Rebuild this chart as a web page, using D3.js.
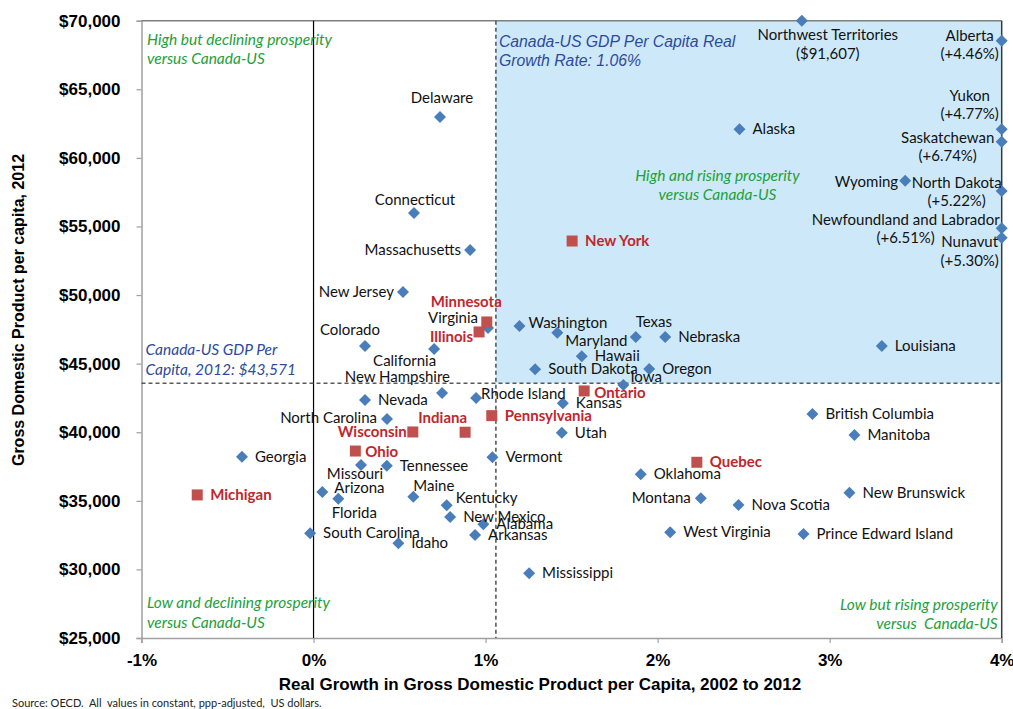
<!DOCTYPE html>
<html>
<head>
<meta charset="utf-8">
<script src="https://cdn.jsdelivr.net/npm/d3@7"></script>
<style>
  body { margin: 0; background: #fff; }
  .tick text { font-family: "Liberation Sans", Arial, sans-serif; font-weight: bold; font-size: 17px; fill: #000; }
  .axisTitle { font-family: "Liberation Sans", Arial, sans-serif; font-weight: bold; fill: #000; }
  .ptLabel { font-family: Lato, "Open Sans", sans-serif; font-size: 15px; fill: #111; }
  .ptLabel.lakes { font-weight: bold; fill: #c0272d; }
  .quad { font-family: Lato, sans-serif; font-style: italic; font-size: 15.5px; fill: #22a03a; }
  .note { fill: #2d4a9c; font-style: italic; }
</style>
</head>
<body>
<div id="chart"></div>
<script>
// Blue diamonds: other US states and Canadian provinces/territories
var otherNames = ["Delaware", "Connecticut", "Massachusetts", "New Jersey", "Virginia", "Colorado",
  "California", "New Hampshire", "Nevada", "Rhode Island", "North Carolina", "Georgia", "Missouri",
  "Tennessee", "Arizona", "Florida", "Maine", "Kentucky", "New Mexico", "Alabama", "Arkansas",
  "South Carolina", "Idaho", "Mississippi", "Vermont", "Washington", "Maryland", "Texas", "Nebraska",
  "Hawaii", "South Dakota", "Oregon", "Iowa", "Kansas", "Utah", "Oklahoma", "Montana", "West Virginia",
  "Louisiana", "Alaska", "Wyoming", "North Dakota", "Nova Scotia", "New Brunswick",
  "Prince Edward Island", "British Columbia", "Manitoba", "Alberta", "Yukon", "Saskatchewan",
  "Newfoundland and Labrador", "Nunavut", "Northwest Territories"];
var otherGrowth = [0.735, 0.584, 0.910, 0.520, 1.014, 0.299,
  0.701, 0.747, 0.299, 0.945, 0.427, -0.416, 0.276,
  0.426, 0.051, 0.144, 0.580, 0.774, 0.794, 0.987, 0.939,
  -0.020, 0.493, 1.253, 1.040, 1.197, 1.417, 1.873, 2.044,
  1.559, 1.288, 1.951, 1.801, 1.449, 1.443, 1.902, 2.251, 2.073,
  3.303, 2.476, 3.439, 5.22, 2.470, 3.115,
  2.848, 2.900, 3.144, 4.46, 4.77, 6.74,
  6.51, 5.30, 2.838];
var otherGdp = [62980, 55980, 53290, 50220, 47600, 46290,
  46070, 42860, 42350, 42500, 40970, 38220, 37610,
  37560, 35640, 35160, 35300, 34670, 33820, 33290, 32510,
  32630, 31900, 29720, 38170, 47750, 47260, 46940, 46940,
  45540, 44590, 44610, 43440, 42110, 39970, 36930, 35180, 32710,
  46290, 62090, 58340, 57590, 34700, 35590,
  32580, 41330, 39800, 68540, 62090, 61180,
  54870, 54180, 91607];

// Red squares: Great Lakes states and provinces
var lakesNames = ["Michigan", "Ohio", "Wisconsin", "Indiana", "Illinois", "Minnesota",
  "Pennsylvania", "New York", "Ontario", "Quebec"];
var lakesGrowth = [-0.676, 0.243, 0.577, 0.881, 0.962, 1.007, 1.036, 1.503, 1.573, 2.228];
var lakesGdp = [35430, 38630, 40020, 40000, 47310, 48040, 41210, 53940, 43010, 37810];

// Canada-US reference values
var refGrowth = 1.06;
var refGdp = 43571;

var xTicks = [-1, 0, 1, 2, 3, 4];
var yTicks = [25000, 30000, 35000, 40000, 45000, 50000, 55000, 60000, 65000, 70000];

// label placement: [anchor, dx, dy] or [anchor, dx, dy line1, dy line2]
var labelPos = {
  "Delaware": ["middle", 2, -14], "Connecticut": ["middle", 1, -8],
  "Massachusetts": ["end", -9, 5], "New Jersey": ["end", -9, 5],
  "Minnesota": ["end", 15, -15], "Virginia": ["end", -10, -5], "Illinois": ["end", -6, 10],
  "Colorado": ["middle", -15, -11], "California": ["end", 2, 17],
  "New Hampshire": ["end", 8, -11], "Rhode Island": ["start", 5, 1],
  "North Carolina": ["end", -10, 4], "Indiana": ["end", 2, -9], "Wisconsin": ["end", -6, 5],
  "Ohio": ["start", 10, 6], "Missouri": ["middle", -6, 14], "Arizona": ["start", 12, 1],
  "Florida": ["middle", 16, 19], "Maine": ["start", 0, -6], "Kentucky": ["start", 9, -2],
  "Washington": ["start", 9, 2], "Maryland": ["start", 8, 13], "Texas": ["start", 0, -10],
  "Iowa": ["start", 7, -3], "Ontario": ["start", 10, 7], "Montana": ["end", -10, 5],
  "Wyoming": ["end", -7, 6],
  "North Dakota": ["middle", -45, -3, 15],
  "Northwest Territories": ["middle", 26, 19, 38],
  "Alberta": ["middle", -32, 0, 18],
  "Yukon": ["middle", -32, -28, -10],
  "Saskatchewan": ["middle", -54, 1, 19],
  "Newfoundland and Labrador": ["middle", -96, -3, 15],
  "Nunavut": ["middle", -32, 9, 28]
};

var svgWidth = 1013;
var svgHeight = 709;
var margin = { top: 20.7, right: 11.3, bottom: 71, left: 141.5 };
var width = svgWidth - margin.left - margin.right;
var height = svgHeight - margin.top - margin.bottom;

var svg = d3.select("#chart").append("svg")
  .attr("width", svgWidth)
  .attr("height", svgHeight);

var chartGroup = svg.append("g")
  .attr("transform", `translate(${margin.left}, ${margin.top})`);

var x = d3.scaleLinear().domain([-1, 4]).range([0, width]).clamp(true);
var y = d3.scaleLinear().domain([25000, 70000]).range([height, 0]).clamp(true);

// shaded quadrant: high and rising
chartGroup.append("rect")
  .attr("x", x(refGrowth))
  .attr("y", y(70000))
  .attr("width", x(4) - x(refGrowth))
  .attr("height", y(refGdp) - y(70000))
  .attr("fill", "#cde9f9");

// axes
var leftAxis = d3.axisLeft(y).tickValues(yTicks).tickFormat(d3.format("$,"))
  .tickSizeOuter(0).tickSize(5).tickPadding(16);
var bottomAxis = d3.axisBottom(x).tickValues(xTicks).tickFormat(d => d + "%")
  .tickSizeOuter(0).tickSize(5).tickPadding(11);

var yAxisG = chartGroup.append("g").call(leftAxis);
var xAxisG = chartGroup.append("g").attr("transform", `translate(0, ${height})`).call(bottomAxis);
[yAxisG, xAxisG].forEach(function(g) {
  g.select(".domain").attr("stroke", "#a0a0a0").attr("stroke-width", 1.5);
  g.selectAll(".tick line").attr("stroke", "#a0a0a0").attr("stroke-width", 1.2);
});

// frame top and right
chartGroup.append("line")
  .attr("x1", 0).attr("x2", width).attr("y1", 0).attr("y2", 0)
  .attr("stroke", "#7f7f7f").attr("stroke-width", 1.5);
chartGroup.append("line")
  .attr("x1", width).attr("x2", width).attr("y1", 0).attr("y2", height)
  .attr("stroke", "#3a3a3a").attr("stroke-width", 1.5);

// zero growth line
chartGroup.append("line")
  .attr("x1", x(0)).attr("x2", x(0)).attr("y1", 0).attr("y2", height)
  .attr("stroke", "#000").attr("stroke-width", 1.2);

// Canada-US reference lines (dashed)
chartGroup.append("line")
  .attr("x1", x(refGrowth)).attr("x2", x(refGrowth)).attr("y1", 0).attr("y2", height)
  .attr("stroke", "#595959").attr("stroke-width", 1.6).attr("stroke-dasharray", "4,3");
chartGroup.append("line")
  .attr("x1", 0).attr("x2", width).attr("y1", y(refGdp)).attr("y2", y(refGdp))
  .attr("stroke", "#595959").attr("stroke-width", 1.6).attr("stroke-dasharray", "4,3");

// quadrant captions
function twoLines(g, px, py, anchor, lines, gap) {
  var t = g.append("text").attr("class", "quad").attr("text-anchor", anchor)
    .attr("xml:space", "preserve");
  lines.forEach(function(s, i) {
    t.append("tspan").attr("x", px).attr("y", py + i * gap).text(s);
  });
  return t;
}
twoLines(chartGroup, 5.5, 24.5, "start", ["High but declining prosperity", "versus Canada-US"], 18.5);
twoLines(chartGroup, 576, 160.5, "middle", ["High and rising prosperity", "versus Canada-US"], 18.5);
twoLines(chartGroup, 5.5, 587.5, "start", ["Low and declining prosperity", "versus Canada-US"], 19.5);
twoLines(chartGroup, width - 4, 589.5, "end", ["Low but rising prosperity", "versus  Canada-US"], 18.5);

// reference notes
var n1 = chartGroup.append("text").attr("class", "note")
  .style("font-family", "'Liberation Sans', Arial, sans-serif").style("font-size", "15.8px");
n1.append("tspan").attr("x", x(refGrowth) + 3).attr("y", 26.5).text("Canada-US GDP Per Capita Real");
n1.append("tspan").attr("x", x(refGrowth) + 3).attr("y", 45.5).text("Growth Rate: " + refGrowth.toFixed(2) + "%");

var n2 = chartGroup.append("text").attr("class", "note")
  .style("font-family", "Lato, sans-serif").style("font-size", "15.5px");
n2.append("tspan").attr("x", 4).attr("y", y(refGdp) - 28).text("Canada-US GDP Per");
n2.append("tspan").attr("x", 4).attr("y", y(refGdp) - 8).text("Capita, 2012: " + d3.format("$,")(refGdp));

// points
var otherData = otherNames.map((n, i) => ({ name: n, g: otherGrowth[i], v: otherGdp[i], lakes: false }));
var lakesData = lakesNames.map((n, i) => ({ name: n, g: lakesGrowth[i], v: lakesGdp[i], lakes: true }));
var allData = otherData.concat(lakesData);

chartGroup.selectAll(".diamond")
  .data(otherData)
  .enter()
  .append("path")
  .classed("diamond", true)
  .attr("d", "M0,-6L6,0L0,6L-6,0Z")
  .attr("transform", d => `translate(${x(d.g)}, ${y(d.v)})`)
  .attr("fill", "#4a7ebb");

chartGroup.selectAll(".square")
  .data(lakesData)
  .enter()
  .append("rect")
  .classed("square", true)
  .attr("x", d => x(d.g) - 5.5)
  .attr("y", d => y(d.v) - 5.5)
  .attr("width", 11)
  .attr("height", 11)
  .attr("fill", "#c0504d");

// point labels
var labels = chartGroup.selectAll(".ptLabel")
  .data(allData)
  .enter()
  .append("text")
  .attr("class", d => d.lakes ? "ptLabel lakes" : "ptLabel")
  .attr("text-anchor", d => (labelPos[d.name] || ["start"])[0]);

labels.each(function(d) {
  var p = labelPos[d.name] || ["start", 13, 5];
  var px = x(d.g) + p[1];
  var t = d3.select(this);
  t.append("tspan").attr("x", px).attr("y", y(d.v) + p[2]).text(d.name);
  if (p.length > 3) {
    // off-scale values shown in brackets
    var extra = d.v > 70000 ? "(" + d3.format("$,")(d.v) + ")" : "(+" + d.g.toFixed(2) + "%)";
    t.append("tspan").attr("x", px).attr("y", y(d.v) + p[3]).text(extra);
  }
});

// axis titles
svg.append("text")
  .attr("class", "axisTitle")
  .attr("text-anchor", "middle")
  .attr("x", 540)
  .attr("y", 690)
  .style("font-size", "17px")
  .text("Real Growth in Gross Domestic Product per Capita, 2002 to 2012");

svg.append("text")
  .attr("class", "axisTitle")
  .attr("text-anchor", "middle")
  .attr("transform", "translate(24, 310) rotate(-90)")
  .style("font-size", "16px")
  .text("Gross Domestic Product per capita, 2012");

svg.append("text")
  .attr("x", 12)
  .attr("y", 707)
  .attr("xml:space", "preserve")
  .style("font-family", "Lato, sans-serif")
  .style("font-size", "11px")
  .style("fill", "#222")
  .text("Source: OECD.  All  values in constant, ppp-adjusted,  US dollars.");
</script>
</body>
</html>
